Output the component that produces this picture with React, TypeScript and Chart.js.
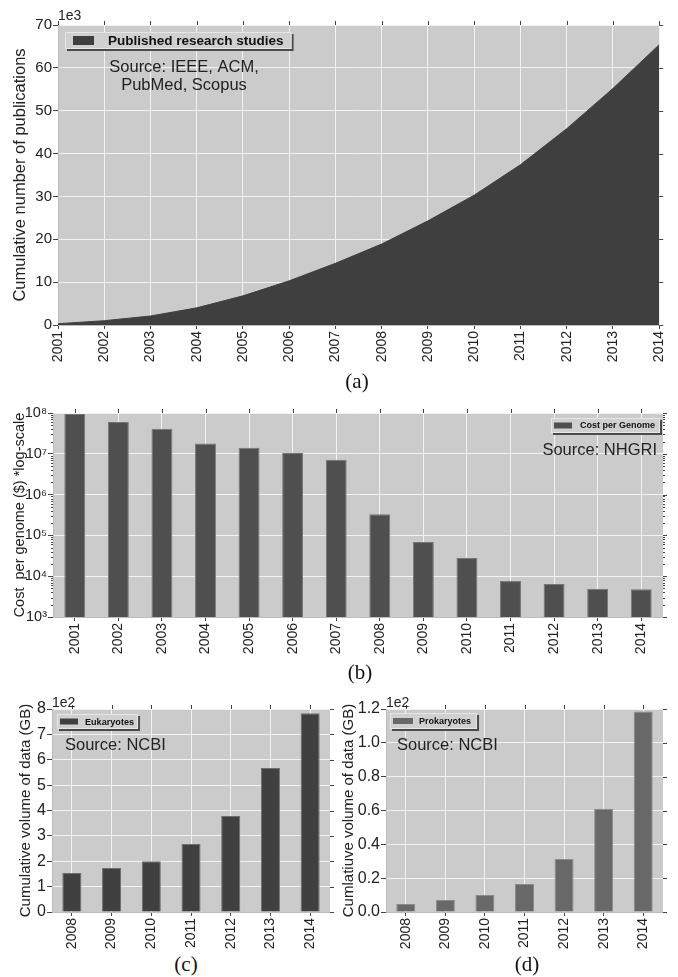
import React, { useEffect, useRef } from "react";
import { Chart, registerables } from "chart.js";

Chart.register(...registerables);

const FONT = "'Liberation Sans', Arial, Helvetica, sans-serif";
const SERIF = "'Liberation Serif', 'Times New Roman', serif";

// ---- (a) cumulative publications (x 1e3)
const YEARS_A = ["2001", "2002", "2003", "2004", "2005", "2006", "2007", "2008", "2009", "2010", "2011", "2012", "2013", "2014"];
const PUBLICATIONS_K = [0.3, 1.0, 2.1, 4.0, 6.8, 10.3, 14.4, 18.9, 24.3, 30.3, 37.4, 45.8, 55.2, 65.4];
const TICKS_A = [0, 10, 20, 30, 40, 50, 60, 70];

// ---- (b) cost per genome (log)
const YEARS_B = ["2001", "2002", "2003", "2004", "2005", "2006", "2007", "2008", "2009", "2010", "2011", "2012", "2013", "2014"];
const COST_PER_GENOME = [9.5e7, 6.0e7, 4.1e7, 1.8e7, 1.4e7, 1.05e7, 7.1e6, 3.3e5, 6.9e4, 2.8e4, 7.6e3, 6.4e3, 4.9e3, 4.8e3];
const TICKS_B = [1e3, 1e4, 1e5, 1e6, 1e7, 1e8];

// ---- (c) / (d) NCBI volumes (x 1e2 GB)
const YEARS_CD = ["2008", "2009", "2010", "2011", "2012", "2013", "2014"];
const EUKARYOTES = [1.54, 1.73, 2.0, 2.68, 3.78, 5.67, 7.83];
const TICKS_C = [0, 1, 2, 3, 4, 5, 6, 7, 8];
const PROKARYOTES = [0.047, 0.071, 0.1, 0.165, 0.313, 0.61, 1.185];
const TICKS_D = [0, 0.2, 0.4, 0.6, 0.8, 1.0, 1.2];

const SUP: Record<string, string> = { "0": "⁰", "1": "¹", "2": "²", "3": "³", "4": "⁴", "5": "⁵", "6": "⁶", "7": "⁷", "8": "⁸", "9": "⁹" };

const BG = "#cbcbcb";
const GRID = "#f2f2f2";
const TICKC = "#444";
const TEXT = "#222";

const decor = {
  id: "decor",
  beforeDraw(chart: any, _a: any, o: any) {
    const { ctx, chartArea: a } = chart;
    ctx.save();
    ctx.fillStyle = o.bg || BG;
    ctx.fillRect(a.left, a.top, a.right - a.left, a.bottom - a.top);
    ctx.restore();
  },
  afterDraw(chart: any, _a: any, o: any) {
    const { ctx, chartArea: a } = chart;
    const xs = chart.scales.x;
    const ys = chart.scales.y;
    ctx.save();
    ctx.strokeStyle = TICKC;
    ctx.lineWidth = 1;
    ctx.beginPath();
    xs.ticks.forEach((_t: any, i: number) => {
      const x = Math.round(xs.getPixelForTick(i)) + 0.5;
      ctx.moveTo(x, a.top - 4);
      ctx.lineTo(x, a.top);
    });
    ys.ticks.forEach((_t: any, i: number) => {
      const y = Math.round(ys.getPixelForTick(i)) + 0.5;
      ctx.moveTo(a.right, y);
      ctx.lineTo(a.right + 4, y);
    });
    if (o.minorLog) {
      const e0 = Math.round(Math.log10(ys.min));
      const e1 = Math.round(Math.log10(ys.max));
      for (let e = e0; e < e1; e++) {
        for (let k = 2; k < 10; k++) {
          const y = Math.round(ys.getPixelForValue(k * Math.pow(10, e))) + 0.5;
          ctx.moveTo(a.left - 2, y);
          ctx.lineTo(a.left, y);
          ctx.moveTo(a.right, y);
          ctx.lineTo(a.right + 2, y);
        }
      }
    }
    ctx.stroke();

    // offset text (e.g. 1e3)
    if (o.offsetText) {
      ctx.fillStyle = TEXT;
      ctx.font = `14px ${FONT}`;
      ctx.textAlign = "left";
      ctx.textBaseline = "alphabetic";
      ctx.fillText(o.offsetText, a.left, a.top - o.offsetDy);
    }

    // legend box
    const L = o.legend;
    if (L) {
      const ds = chart.data.datasets[0];
      ctx.font = `bold ${L.size}px ${FONT}`;
      const tw = ctx.measureText(ds.label).width;
      const w = L.padL + L.patchW + L.gap + tw + L.padR;
      const x0 = L.alignRight ? a.right - L.dx - w : a.left + L.dx;
      const y0 = a.top + L.dy;
      ctx.fillStyle = "#4a4a4a";
      ctx.fillRect(x0 + 2, y0 + 2, w, L.h);
      ctx.fillStyle = "#d0d0d0";
      ctx.fillRect(x0, y0, w, L.h);
      ctx.strokeStyle = "#e6e6e6";
      ctx.strokeRect(x0 + 0.5, y0 + 0.5, w - 1, L.h - 1);
      ctx.fillStyle = ds.backgroundColor;
      ctx.fillRect(x0 + L.padL, y0 + L.h / 2 - L.patchH / 2, L.patchW, L.patchH);
      ctx.fillStyle = "#111";
      ctx.textAlign = "left";
      ctx.textBaseline = "middle";
      ctx.fillText(ds.label, x0 + L.padL + L.patchW + L.gap, y0 + L.h / 2 + 0.5);
    }

    // source text
    const S = o.source;
    if (S) {
      ctx.fillStyle = TEXT;
      ctx.font = `${S.size}px ${FONT}`;
      ctx.textAlign = S.align;
      ctx.textBaseline = "middle";
      S.lines.forEach((ln: string, i: number) => {
        const x = S.align === "right" ? a.right - S.dx : a.left + S.dx;
        ctx.fillText(ln, x, a.top + S.dy + i * S.lineGap);
      });
    }
    ctx.restore();
  },
};

function xScale(h: number, offset: boolean) {
  return {
    type: "category",
    offset,
    grid: { color: GRID, lineWidth: 1, tickColor: TICKC, tickLength: 4, offset: false, drawTicks: true },
    border: { color: "#bdbdbd" },
    ticks: {
      autoSkip: false,
      minRotation: 90,
      maxRotation: 90,
      padding: 2,
      color: TEXT,
      font: { family: FONT, size: 14 },
    },
    afterFit: (s: any) => {
      s.height = h;
    },
  };
}

function yScale(opts: {
  w: number;
  type?: string;
  min: number;
  max: number;
  ticks: number[];
  title: string;
  titleSize: number;
  titlePad: number;
  tickSize: number;
  cb: (v: number) => string;
}) {
  return {
    type: opts.type || "linear",
    min: opts.min,
    max: opts.max,
    grid: { color: GRID, lineWidth: 1, tickColor: TICKC, tickLength: 5, drawTicks: true },
    border: { color: "#bdbdbd" },
    ticks: {
      padding: 1,
      color: TEXT,
      font: { family: FONT, size: opts.tickSize },
      callback: (v: any) => opts.cb(Number(v)),
    },
    title: {
      display: true,
      text: opts.title,
      color: TEXT,
      font: { family: FONT, size: opts.titleSize },
      padding: { top: opts.titlePad, bottom: 0 },
    },
    afterBuildTicks: (s: any) => {
      s.ticks = opts.ticks.map((v) => ({ value: v }));
    },
    afterFit: (s: any) => {
      s.width = opts.w;
    },
  };
}

function configA(): any {
  return {
    type: "line",
    data: {
      labels: YEARS_A,
      datasets: [
        {
          label: "Published research studies",
          data: PUBLICATIONS_K,
          fill: "origin",
          backgroundColor: "#3f3f3f",
          borderColor: "#3f3f3f",
          borderWidth: 1,
          pointRadius: 0,
          tension: 0,
        },
      ],
    },
    options: {
      responsive: false,
      animation: false,
      layout: { padding: { top: 25, right: 15, left: 0, bottom: 0 } },
      scales: {
        x: xScale(47, false),
        y: yScale({
          w: 58,
          min: 0,
          max: 70,
          ticks: TICKS_A,
          title: "Cumulative number of publications",
          titleSize: 16.5,
          titlePad: 11,
          tickSize: 15,
          cb: (v) => String(v),
        }),
      },
      plugins: {
        legend: { display: false },
        tooltip: { enabled: false },
        decor: {
          offsetText: "1e3",
          offsetDy: 5,
          legend: { dx: 7, dy: 7, h: 17, padL: 8, patchW: 21, patchH: 9, gap: 14, padR: 8, size: 13.5 },
          source: { lines: ["Source: IEEE, ACM,", "PubMed, Scopus"], align: "center", dx: 126, dy: 42, lineGap: 18, size: 16.5 },
        },
      },
    },
    plugins: [decor],
  };
}

function configB(): any {
  return {
    type: "bar",
    data: {
      labels: YEARS_B,
      datasets: [
        {
          label: "Cost per Genome",
          data: COST_PER_GENOME,
          backgroundColor: "#4f4f4f",
          borderColor: "#767676",
          borderWidth: 1,
          barPercentage: 0.48,
          categoryPercentage: 1,
        },
      ],
    },
    options: {
      responsive: false,
      animation: false,
      layout: { padding: { top: 33, right: 15, left: 0, bottom: 0 } },
      scales: {
        x: xScale(43, true),
        y: yScale({
          w: 53,
          type: "logarithmic",
          min: 1e3,
          max: 1e8,
          ticks: TICKS_B,
          title: "Cost  per genome ($) *log-scale",
          titleSize: 14.5,
          titlePad: 11,
          tickSize: 14.5,
          cb: (v) => "10" + String(Math.round(Math.log10(v))).split("").map((c) => SUP[c]).join(""),
        }),
      },
      plugins: {
        legend: { display: false },
        tooltip: { enabled: false },
        decor: {
          minorLog: true,
          legend: { alignRight: true, dx: 3, dy: 5, h: 15, padL: 3, patchW: 18, patchH: 6, gap: 8, padR: 5, size: 9 },
          source: { lines: ["Source: NHGRI"], align: "right", dx: 6, dy: 37, lineGap: 18, size: 16.5 },
        },
      },
    },
    plugins: [decor],
  };
}

function configCD(which: "c" | "d"): any {
  const isC = which === "c";
  return {
    type: "bar",
    data: {
      labels: YEARS_CD,
      datasets: [
        {
          label: isC ? "Eukaryotes" : "Prokaryotes",
          data: isC ? EUKARYOTES : PROKARYOTES,
          backgroundColor: isC ? "#404040" : "#686868",
          borderColor: isC ? "#6e6e6e" : "#8a8a8a",
          borderWidth: 1,
          barPercentage: 0.48,
          categoryPercentage: 1,
        },
      ],
    },
    options: {
      responsive: false,
      animation: false,
      layout: { padding: { top: 29, right: isC ? 10 : 15, left: 0, bottom: 0 } },
      scales: {
        x: xScale(38, true),
        y: yScale({
          w: 52,
          min: 0,
          max: isC ? 8 : 1.2,
          ticks: isC ? TICKS_C : TICKS_D,
          title: isC ? "Cumulative volume of data (GB)" : "Cumlatiuve volume of data (GB)",
          titleSize: 15,
          titlePad: isC ? 17 : 6,
          tickSize: 16,
          cb: (v) => (isC ? String(v) : v.toFixed(1)),
        }),
      },
      plugins: {
        legend: { display: false },
        tooltip: { enabled: false },
        decor: {
          offsetText: "1e2",
          offsetDy: 2,
          legend: isC
            ? { dx: 5, dy: 5, h: 15, padL: 3, patchW: 18, patchH: 6, gap: 7, padR: 4, size: 9.1 }
            : { dx: 4, dy: 4, h: 16, padL: 3, patchW: 20, patchH: 6, gap: 6, padR: 6, size: 9 },
          source: { lines: ["Source: NCBI"], align: "left", dx: isC ? 13 : 11, dy: 36, lineGap: 18, size: 16.5 },
        },
      },
    },
    plugins: [decor],
  };
}

function Panel(props: { left: number; top: number; width: number; height: number; make: () => any }) {
  const ref = useRef<HTMLCanvasElement>(null);
  useEffect(() => {
    const chart = new Chart(ref.current as HTMLCanvasElement, props.make());
    return () => chart.destroy();
  }, []);
  return (
    <canvas
      ref={ref}
      width={props.width}
      height={props.height}
      style={{ position: "absolute", left: props.left, top: props.top, width: props.width, height: props.height }}
    />
  );
}

function Caption(props: { x: number; y: number; text: string }) {
  return (
    <div
      style={{
        position: "absolute",
        left: props.x,
        top: props.y,
        transform: "translate(-50%, -50%)",
        fontFamily: SERIF,
        fontSize: 21,
        lineHeight: 1,
        color: "#111",
        whiteSpace: "nowrap",
      }}
    >
      {props.text}
    </div>
  );
}

export default function App() {
  return (
    <div style={{ position: "absolute", left: 0, top: 0, width: 678, height: 977, background: "#fff", overflow: "hidden" }}>
      <Panel left={0} top={0} width={678} height={372} make={configA} />
      <Caption x={357} y={381} text="(a)" />
      <Panel left={0} top={380} width={678} height={280} make={configB} />
      <Caption x={360} y={672} text="(b)" />
      <Panel left={0} top={680} width={340} height={270} make={() => configCD("c")} />
      <Caption x={186} y={964} text="(c)" />
      <Panel left={334} top={680} width={344} height={270} make={() => configCD("d")} />
      <Caption x={527} y={964} text="(d)" />
    </div>
  );
}
